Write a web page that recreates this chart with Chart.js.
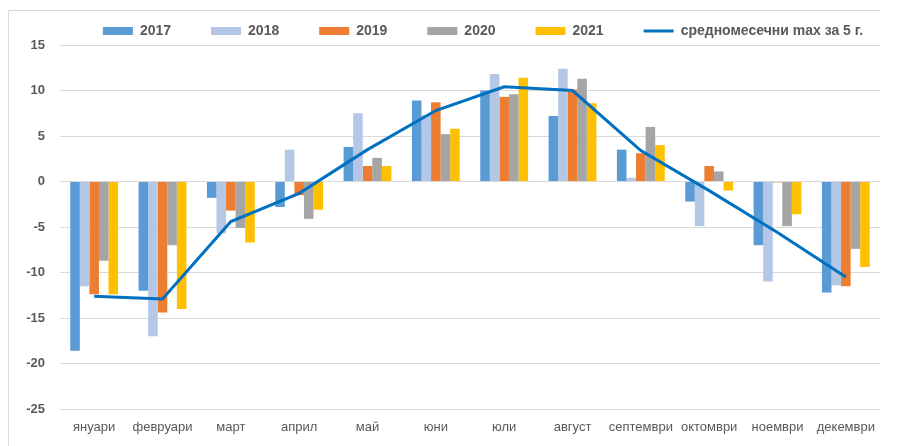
<!DOCTYPE html>
<html>
<head>
<meta charset="utf-8">
<script src="https://cdn.jsdelivr.net/npm/chart.js@4"></script>
<style>
  html, body { margin: 0; padding: 0; background: #fff; }
  #wrap { position: relative; width: 901px; height: 446px; }
</style>
</head>
<body>
<div id="wrap"><canvas id="chart" width="901" height="446"></canvas></div>
<script>
// months
const months = ['януари', 'февруари', 'март', 'април', 'май', 'юни', 'юли', 'август', 'септември', 'октомври', 'ноември', 'декември'];

// monthly max temperatures per year
const y2017 = [-18.6, -12.0, -1.8, -2.8, 3.8, 8.9, 10.0, 7.2, 3.5, -2.2, -7.0, -12.2];
const y2018 = [-11.5, -17.0, -5.7, 3.5, 7.5, 7.3, 11.8, 12.4, 0.4, -4.9, -11.0, -11.4];
const y2019 = [-12.4, -14.4, -3.2, -1.5, 1.7, 8.7, 9.3, 10.1, 3.1, 1.7, -0.1, -11.5];
const y2020 = [-8.7, -7.0, -5.1, -4.1, 2.6, 5.2, 9.6, 11.3, 6.0, 1.1, -4.9, -7.4];
const y2021 = [-12.4, -14.0, -6.7, -3.1, 1.7, 5.8, 11.4, 8.6, 4.0, -1.0, -3.6, -9.4];

// 5-year average of the monthly max
const avgMax = [-12.6, -12.9, -4.4, -1.3, 3.5, 7.8, 10.4, 10.0, 3.4, -1.0, -5.6, -10.5];

const yTicks = [15, 10, 5, 0, -5, -10, -15, -20, -25];

const textColor = '#595959';
const gridColor = '#d9d9d9';
const fontFamily = '"Liberation Sans", Arial, sans-serif';

function barSet(label, data, color) {
    return {
        type: 'bar',
        label: label,
        data: data,
        backgroundColor: color,
        borderWidth: 0,
        pointStyle: 'rect',
        order: 2
    };
}

// light frame like the excel chart area
const framePlugin = {
    id: 'frame',
    beforeDraw(chart) {
        const ctx = chart.ctx;
        ctx.save();
        ctx.strokeStyle = gridColor;
        ctx.lineWidth = 1;
        ctx.beginPath();
        ctx.moveTo(8.5, 446);
        ctx.lineTo(8.5, 10.5);
        ctx.lineTo(880, 10.5);
        ctx.stroke();
        ctx.restore();
    }
};

// nudge the legend row, as in the original
const legendShift = {
    id: 'legendShift',
    afterLayout(chart) {
        chart.legend.left += 43;
        chart.legend.right += 43;
        chart.legend.top += 3;
        chart.legend.bottom += 3;
    }
};

const ctx = document.getElementById('chart').getContext('2d');
new Chart(ctx, {
    data: {
        labels: months,
        datasets: [
            barSet('2017', y2017, '#5b9bd5'),
            barSet('2018', y2018, '#b4c7e7'),
            barSet('2019', y2019, '#ed7d31'),
            barSet('2020', y2020, '#a5a5a5'),
            barSet('2021', y2021, '#ffc000'),
            {
                type: 'line',
                label: 'средномесечни max за 5 г.',
                data: avgMax,
                borderColor: '#0070c0',
                backgroundColor: '#0070c0',
                borderWidth: 3,
                pointRadius: 0,
                pointStyle: 'line',
                tension: 0,
                order: 1
            }
        ]
    },
    options: {
        responsive: false,
        animation: false,
        layout: { padding: { top: -19, left: 0, right: 21, bottom: 0 } },
        datasets: {
            bar: { categoryPercentage: 0.7, barPercentage: 1.0 }
        },
        plugins: {
            tooltip: { enabled: false },
            legend: {
                position: 'top',
                labels: {
                    usePointStyle: true,
                    pointStyleWidth: 30,
                    boxHeight: 8,
                    padding: 40,
                    color: textColor,
                    font: { family: fontFamily, size: 14, weight: 'bold' },
                    sort: (a, b) => a.datasetIndex - b.datasetIndex
                }
            }
        },
        scales: {
            x: {
                grid: { display: false, drawTicks: false },
                border: { display: false },
                ticks: {
                    color: textColor,
                    padding: 11,
                    maxRotation: 0,
                    autoSkip: false,
                    font: { family: fontFamily, size: 13 }
                },
                afterFit(scale) { scale.height = 37; }
            },
            y: {
                min: -25,
                max: 15,
                afterBuildTicks(scale) { scale.ticks = yTicks.map(v => ({ value: v })); },
                grid: { color: gridColor, lineWidth: 1, drawTicks: false },
                border: { display: false },
                ticks: {
                    color: textColor,
                    padding: 15,
                    font: { family: fontFamily, size: 13, weight: 'bold' }
                },
                afterFit(scale) { scale.width = 60; }
            }
        }
    },
    plugins: [framePlugin, legendShift]
});
</script>
</body>
</html>
